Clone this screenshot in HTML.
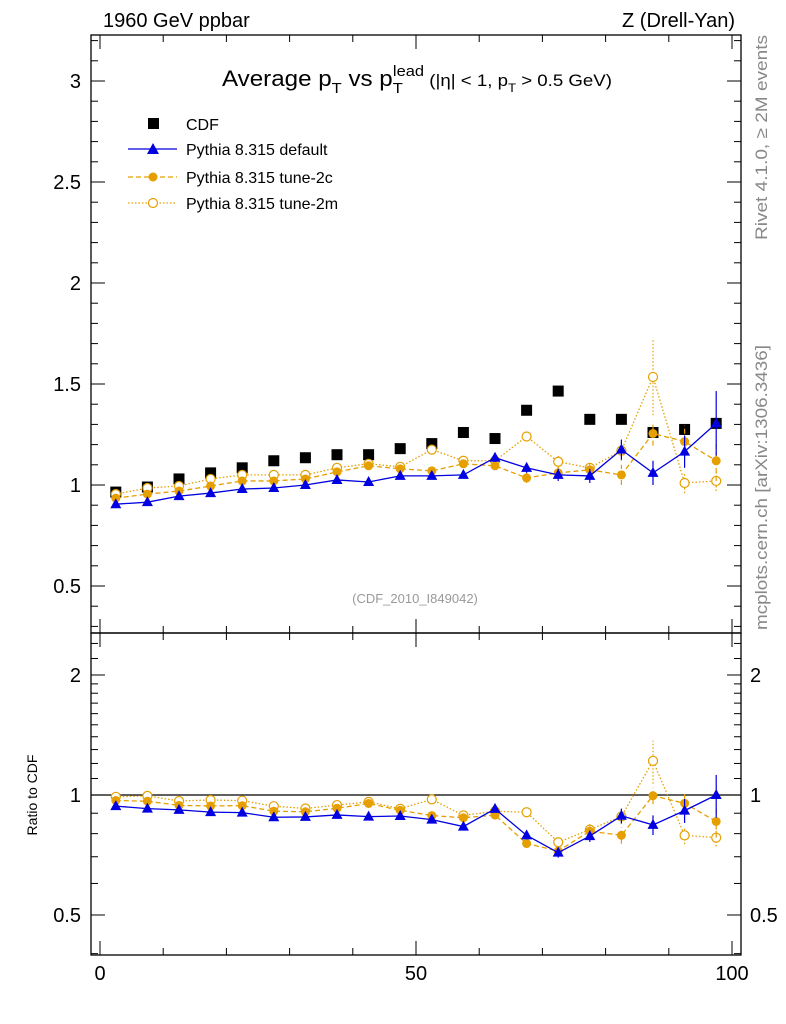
<!DOCTYPE html>
<html><head><meta charset="utf-8"><style>
html,body{margin:0;padding:0;background:#fff;}
svg{display:block;font-family:"Liberation Sans",sans-serif;}
</style></head><body>
<svg id="c" width="786" height="1024" viewBox="0 0 786 1024" xmlns="http://www.w3.org/2000/svg">
<rect x="0" y="0" width="786" height="1024" fill="#fff"/>
<text x="103" y="27" font-size="20">1960 GeV ppbar</text>
<text x="735" y="27" font-size="20" text-anchor="end">Z (Drell-Yan)</text>
<text x="222" y="86" font-size="22" textLength="390" lengthAdjust="spacingAndGlyphs">Average p<tspan font-size="15" dy="7">T</tspan><tspan dy="-7"> vs p</tspan><tspan font-size="15" dy="7">T</tspan><tspan font-size="15" dx="-9" dy="-17">lead</tspan><tspan font-size="17" dy="10"> (|η| &lt; 1, p</tspan><tspan font-size="12" dy="6">T</tspan><tspan font-size="17" dy="-6"> &gt; 0.5 GeV)</tspan></text>
<text x="415" y="603" font-size="13" fill="#999" text-anchor="middle">(CDF_2010_I849042)</text>
<text transform="translate(767,240) rotate(-90)" font-size="17" fill="#888" textLength="205" lengthAdjust="spacingAndGlyphs">Rivet 4.1.0, ≥ 2M events</text>
<text transform="translate(767,630) rotate(-90)" font-size="17" fill="#888" textLength="285" lengthAdjust="spacingAndGlyphs">mcplots.cern.ch [arXiv:1306.3436]</text>
<text transform="translate(37,795) rotate(-90)" font-size="14" text-anchor="middle">Ratio to CDF</text>
<g id="legend">
<rect x="148" y="118" width="11" height="11" fill="#000"/>
<text x="186" y="130" font-size="16">CDF</text>
<line x1="128" y1="149" x2="177" y2="149" stroke="#0000e0" stroke-width="1.3"/>
<polygon points="153,143 159,154 147,154" fill="#0000e0"/>
<text x="186" y="155" font-size="16">Pythia 8.315 default</text>
<line x1="128" y1="177" x2="177" y2="177" stroke="#e69f00" stroke-width="1.3" stroke-dasharray="5,3"/>
<circle cx="153" cy="177" r="4.5" fill="#e69f00"/>
<text x="186" y="183" font-size="16">Pythia 8.315 tune-2c</text>
<line x1="128" y1="203" x2="177" y2="203" stroke="#e69f00" stroke-width="1.2" stroke-dasharray="1.5,2"/>
<circle cx="153" cy="203" r="4.5" fill="#fff" stroke="#e69f00" stroke-width="1.2"/>
<text x="186" y="209" font-size="16">Pythia 8.315 tune-2m</text>
</g>
</svg>
<script>
const xCenters=[2.5,7.5,12.5,17.5,22.5,27.5,32.5,37.5,42.5,47.5,52.5,57.5,62.5,67.5,72.5,77.5,82.5,87.5,92.5,97.5];
const cdfVals=[0.965,0.99,1.03,1.06,1.085,1.12,1.135,1.15,1.15,1.18,1.205,1.26,1.23,1.37,1.465,1.325,1.325,1.26,1.275,1.305];
const defVals=[0.905,0.915,0.945,0.96,0.98,0.985,1.0,1.025,1.015,1.045,1.045,1.05,1.135,1.085,1.05,1.045,1.175,1.06,1.165,1.305];
const defErr=[0.005,0.005,0.006,0.006,0.007,0.008,0.008,0.009,0.01,0.011,0.013,0.015,0.02,0.025,0.03,0.035,0.05,0.06,0.08,0.16];
const c2Vals=[0.935,0.955,0.97,0.995,1.02,1.02,1.03,1.065,1.095,1.08,1.07,1.105,1.095,1.035,1.06,1.075,1.05,1.255,1.215,1.12];
const c2Err=[0.005,0.005,0.006,0.006,0.007,0.008,0.008,0.009,0.01,0.011,0.013,0.015,0.02,0.025,0.03,0.035,0.05,0.06,0.08,0.1];
const m2Vals=[0.955,0.985,0.995,1.03,1.05,1.05,1.05,1.085,1.105,1.09,1.175,1.12,1.12,1.24,1.115,1.085,1.17,1.535,1.01,1.02];
const m2Err=[0.005,0.005,0.006,0.006,0.007,0.008,0.008,0.009,0.01,0.011,0.013,0.015,0.02,0.025,0.03,0.035,0.05,0.19,0.05,0.05];
const xTickLabels=[0,50,100];
const mainYTickLabels=[0.5,1,1.5,2,2.5,3];
const ratioYTickLabels=[0.5,1,2];

const NS='http://www.w3.org/2000/svg';
const svg=document.getElementById('c');
const L=91,R=741,T=35,M=633,B=955;
const xs=v=>100+v*6.32;
const ys=v=>485-(v-1)*202;
const yr=v=>795-Math.log2(v)*120;
function mk(tag,attrs,parent){const e=document.createElementNS(NS,tag);for(const k in attrs)e.setAttribute(k,attrs[k]);(parent||svg).appendChild(e);return e;}

function frame(top,bot,name){
  const g=mk('g',{});
  
  
  const r=mk('rect',{x:L,y:top,width:R-L,height:bot-top,fill:'none',stroke:'#000','stroke-width':1.3},g);
  
  
  for(let v=0;v<=100;v+=10){
    const big=v%50===0, len=big?14:7, x=xs(v);
    mk('line',{x1:x,y1:bot,x2:x,y2:bot-len,stroke:'#000'},g);
    mk('line',{x1:x,y1:top,x2:x,y2:top+len,stroke:'#000'},g);
  }
  return g;
}
const gm=frame(T,M,'main-panel');
for(let i=3;i<=32;i++){
  const v=i/10, y=ys(v); if(y<T||y>M)continue;
  const big=i%5===0, len=big?14:7;
  mk('line',{x1:L,y1:y,x2:L+len,y2:y,stroke:'#000'},gm);
  mk('line',{x1:R,y1:y,x2:R-len,y2:y,stroke:'#000'},gm);
}
mainYTickLabels.forEach(v=>{
  const t=mk('text',{x:L-10,y:ys(v)+7,'font-size':20,'text-anchor':'end'});
  t.textContent=String(v);
  
  
});
const gr=frame(M,B,'ratio-panel');
const rt=[0.4,0.5,0.6,0.7,0.8,0.9,1,2];
const rminor=[1.1,1.2,1.3,1.4,1.5,1.6,1.7,1.8,1.9,2.2,2.4];
rt.concat(rminor).forEach(v=>{
  const y=yr(v); if(y<M||y>B)return;
  const big=ratioYTickLabels.includes(v), len=big?14:7;
  mk('line',{x1:L,y1:y,x2:L+len,y2:y,stroke:'#000'},gr);
  mk('line',{x1:R,y1:y,x2:R-len,y2:y,stroke:'#000'},gr);
});
ratioYTickLabels.forEach(v=>{
  const t=mk('text',{x:L-10,y:yr(v)+7,'font-size':20,'text-anchor':'end'});
  t.textContent=String(v);
  
  
  const t2=mk('text',{x:R+9,y:yr(v)+7,'font-size':20});
  t2.textContent=String(v);
  
  
});
const ref=mk('line',{x1:L,y1:yr(1),x2:R,y2:yr(1),stroke:'#000','stroke-width':1.2});


xTickLabels.forEach(v=>{
  const t=mk('text',{x:xs(v),y:980,'font-size':20,'text-anchor':'middle'});
  t.textContent=String(v);
  
  
});

function series(vals,errs,color,dash,marker,name,yf,base){
  const g=mk('g',{});
  
  
  const pts=vals.map((v,i)=>{const val=base?v/base[i]:v;return [xs(xCenters[i]),yf(val)];});
  const pl=mk('polyline',{points:pts.map(p=>p.join(',')).join(' '),fill:'none',stroke:color,'stroke-width':1.3,'stroke-dasharray':dash},g);
  
  
  vals.forEach((v,i)=>{
    const b=base?base[i]:1;
    const x=pts[i][0], y=pts[i][1];
    const e=errs[i];
    const y1=yf((v-e)/b), y2=yf((v+e)/b);
    mk('line',{x1:x,y1:y1,x2:x,y2:y2,stroke:color,'stroke-width':1.2,'stroke-dasharray':dash},g);
    let m;
    if(marker==='tri') m=mk('polygon',{points:`${x},${y-6} ${x+5.5},${y+4} ${x-5.5},${y+4}`,fill:color},g);
    else if(marker==='dot') m=mk('circle',{cx:x,cy:y,r:4.5,fill:color},g);
    else m=mk('circle',{cx:x,cy:y,r:4.5,fill:'#fff',stroke:color,'stroke-width':1.2},g);
    
    
  });
}
cdfVals.forEach((v,i)=>{
  const r=mk('rect',{x:xs(xCenters[i])-5.5,y:ys(v)-5.5,width:11,height:11,fill:'#000'});
  
  
});
series(m2Vals,m2Err,'#e69f00','1.5,2','open','tune-2m-main',ys);
series(c2Vals,c2Err,'#e69f00','5,3','dot','tune-2c-main',ys);
series(defVals,defErr,'#0000e0','','tri','default-main',ys);
series(m2Vals,m2Err,'#e69f00','1.5,2','open','tune-2m-ratio',yr,cdfVals);
series(c2Vals,c2Err,'#e69f00','5,3','dot','tune-2c-ratio',yr,cdfVals);
series(defVals,defErr,'#0000e0','','tri','default-ratio',yr,cdfVals);
svg.appendChild(document.getElementById('legend'));
</script>
</body></html>
